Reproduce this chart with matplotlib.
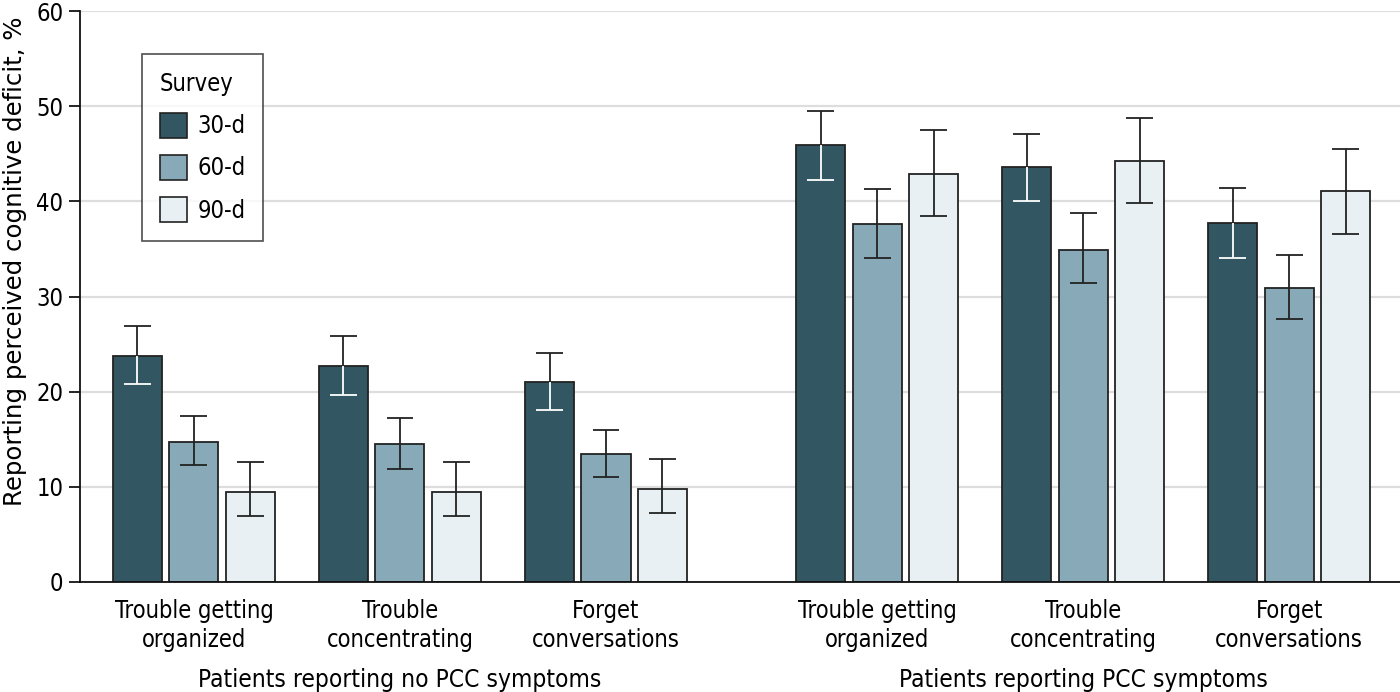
import matplotlib

matplotlib.use("Agg")
import matplotlib.pyplot as plt
from matplotlib.patches import Patch
from matplotlib.transforms import blended_transform_factory

categories = [
    "Trouble getting\norganized",
    "Trouble\nconcentrating",
    "Forget\nconversations",
]
panels = ["Patients reporting no PCC symptoms", "Patients reporting PCC symptoms"]
surveys = ["30-d", "60-d", "90-d"]

# percent, per survey: no-PCC items then PCC items
values = {
    "30-d": [23.8, 22.7, 21.0, 45.9, 43.6, 37.7],
    "60-d": [14.7, 14.5, 13.4, 37.6, 34.9, 30.9],
    "90-d": [9.5, 9.5, 9.8, 42.9, 44.2, 41.1],
}
lower = {
    "30-d": [20.8, 19.7, 18.1, 42.2, 40.0, 34.1],
    "60-d": [12.3, 11.9, 11.0, 34.1, 31.4, 27.6],
    "90-d": [6.9, 6.9, 7.3, 38.5, 39.8, 36.6],
}
upper = {
    "30-d": [26.9, 25.8, 24.1, 49.5, 47.1, 41.4],
    "60-d": [17.4, 17.2, 16.0, 41.3, 38.8, 34.4],
    "90-d": [12.6, 12.6, 12.9, 47.5, 48.8, 45.5],
}

colors = {"30-d": "#325662", "60-d": "#88a9b8", "90-d": "#e9f0f4"}
edge = "#222222"

plt.rcParams["font.family"] = ["DejaVu Sans"]
plt.rcParams["font.stretch"] = "condensed"

fig = plt.figure(figsize=(14, 6.92), dpi=100)
ax = fig.add_axes([0.0571, 0.159, 0.943, 0.825])

gap = 0.316
centers = [0, 1, 2, 3 + gap, 4 + gap, 5 + gap]
step = 0.274
width = 0.238
cap = 0.065

for k, s in enumerate(surveys):
    xs = [c + (k - 1) * step for c in centers]
    ax.bar(xs, values[s], width=width, color=colors[s], edgecolor=edge,
           linewidth=1.3, zorder=2)
    for x, v, lo, hi in zip(xs, values[s], lower[s], upper[s]):
        inner = "white" if s == "30-d" else edge
        ax.vlines(x, lo, v, color=inner, linewidth=1.3, zorder=3)
        ax.hlines(lo, x - cap, x + cap, color=inner, linewidth=1.3, zorder=3)
        ax.vlines(x, v, hi, color=edge, linewidth=1.3, zorder=3)
        ax.hlines(hi, x - cap, x + cap, color=edge, linewidth=1.3, zorder=3)

ax.set_xlim(-0.553, 5.854)
ax.set_ylim(0, 60)
ax.set_yticks(range(0, 61, 10))
ax.yaxis.grid(True, color="#dddddd", linewidth=1.6, zorder=0)
ax.set_axisbelow(True)
ax.set_xticks(centers)
ax.set_xticklabels(categories * 2, fontsize=17, linespacing=1.3)
ax.tick_params(axis="x", length=0, pad=12)
ax.tick_params(axis="y", length=8, width=1.2, labelsize=17, pad=4, direction="out")
for side in ["top", "right"]:
    ax.spines[side].set_visible(False)
for side in ["left", "bottom"]:
    ax.spines[side].set_linewidth(1.3)
    ax.spines[side].set_color("#111111")

ax.set_ylabel("Reporting perceived cognitive deficit, %", fontsize=17.6,
              fontstretch="normal")
ax.yaxis.set_label_coords(-0.040, 0.562)

trans = blended_transform_factory(ax.transData, fig.transFigure)
ax.text(1, 0.0, panels[0], transform=trans, ha="center", va="bottom", fontsize=17.6)
ax.text(4 + gap, 0.0, panels[1], transform=trans, ha="center", va="bottom", fontsize=17.6)

handles = [Patch(facecolor=colors[s], edgecolor=edge, linewidth=1.2) for s in surveys]
leg = ax.legend(handles, surveys, title="Survey", loc="upper left",
                bbox_to_anchor=(0.047, 0.925), borderaxespad=0, fontsize=17,
                title_fontsize=17, frameon=True, fancybox=False,
                edgecolor="#222222", handlelength=1.15, handleheight=1.25,
                labelspacing=0.72, borderpad=0.75, handletextpad=0.45)
leg.get_frame().set_linewidth(1.2)
leg._legend_box.align = "left"

fig.savefig("out.png", dpi=100)
